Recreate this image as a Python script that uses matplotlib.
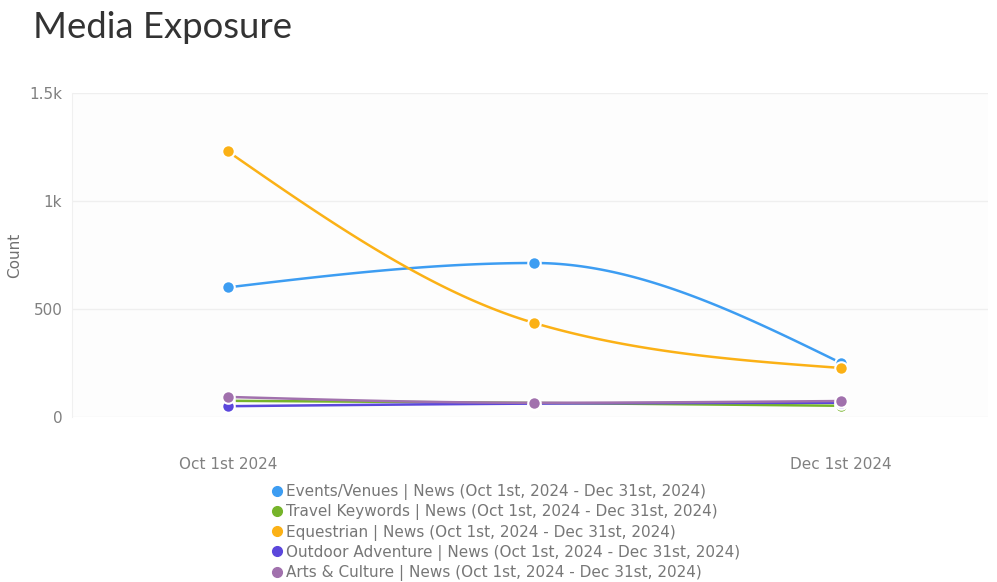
import numpy as np
import matplotlib.pyplot as plt
from matplotlib.lines import Line2D

# values
months = ["Oct 1st 2024", "Nov 1st 2024", "Dec 1st 2024"]
events = [600, 713, 250]
travel = [75, 65, 52]
equestrian = [1230, 435, 227]
outdoor = [50, 62, 66]
arts = [93, 66, 74]

names = ["Events/Venues", "Travel Keywords", "Equestrian", "Outdoor Adventure", "Arts & Culture"]
colors = ["#3d9df2", "#76b42a", "#fbb116", "#5b47dc", "#a171ad"]
suffix = " | News (Oct 1st, 2024 - Dec 31st, 2024)"


def monotone_curve(x, y, n=60):
    # d3-style monotoneX interpolation for drawing the smooth line
    x = np.asarray(x, float)
    y = np.asarray(y, float)
    h = np.diff(x)
    s = np.diff(y) / h
    m = np.zeros_like(y)
    for i in range(1, len(y) - 1):
        p = (s[i - 1] * h[i] + s[i] * h[i - 1]) / (h[i - 1] + h[i])
        m[i] = (np.sign(s[i - 1]) + np.sign(s[i])) * min(abs(s[i - 1]), abs(s[i]), 0.5 * abs(p))
    m[0] = (3 * s[0] - m[1]) / 2
    m[-1] = (3 * s[-1] - m[-2]) / 2
    xs, ys = [], []
    for i in range(len(h)):
        t = np.linspace(0, 1, n)
        h00 = 2 * t**3 - 3 * t**2 + 1
        h10 = t**3 - 2 * t**2 + t
        h01 = -2 * t**3 + 3 * t**2
        h11 = t**3 - t**2
        xs.append(x[i] + t * h[i])
        ys.append(h00 * y[i] + h10 * h[i] * m[i] + h01 * y[i + 1] + h11 * h[i] * m[i + 1])
    return np.concatenate(xs), np.concatenate(ys)


fig = plt.figure(figsize=(9.97, 5.82), dpi=100)
fig.patch.set_facecolor("white")
ax = fig.add_axes([0.0722, 0.2835, 0.919, 0.5567])
ax.set_facecolor("#fdfdfd")

x = np.arange(len(months))
series = [events, travel, equestrian, outdoor, arts]
for i, (vals, c) in enumerate(zip(series, colors)):
    cx, cy = monotone_curve(x, vals)
    ax.plot(cx, cy, color=c, lw=1.8, zorder=3 + i, solid_capstyle="round")
    ax.plot(x, vals, "o", color=c, ms=9, mec="white", mew=1.5, zorder=3 + i)

ax.set_xlim(-0.508, 2.48)
ax.set_ylim(0, 1500)
ax.set_yticks([0, 500, 1000, 1500])
ax.set_yticklabels(["0", "500", "1k", "1.5k"])
ax.set_xticks([0, 2])
ax.set_xticklabels([months[0], months[2]])
ax.tick_params(axis="both", length=0, labelsize=11, labelcolor="#808080")
ax.tick_params(axis="x", pad=29)
ax.tick_params(axis="y", pad=7)
ax.yaxis.grid(True, color="#efefef", lw=1)
ax.set_axisbelow(True)
for side in ["top", "right", "bottom"]:
    ax.spines[side].set_visible(False)
ax.spines["left"].set_color("#f0f0f0")
ax.set_ylabel("Count", fontsize=11, color="#707070", labelpad=5)

fig.text(0.033, 0.952, "Media Exposure", fontsize=26.3, family="Lato",
         color="#333333", va="center", ha="left")

handles = [Line2D([], [], ls="none", marker="o", ms=7, color=c) for c in colors]
labels = [n + suffix for n in names]
leg = fig.legend(handles, labels, loc="upper center",
                 frameon=False, fontsize=11, labelcolor="#777777",
                 handletextpad=0.1, labelspacing=0.28, handlelength=1.0,
                 borderaxespad=0, borderpad=0)
leg.set_bbox_to_anchor((0.506, 1 - 484 / 582), transform=fig.transFigure)

fig.savefig("out.png", dpi=100)
